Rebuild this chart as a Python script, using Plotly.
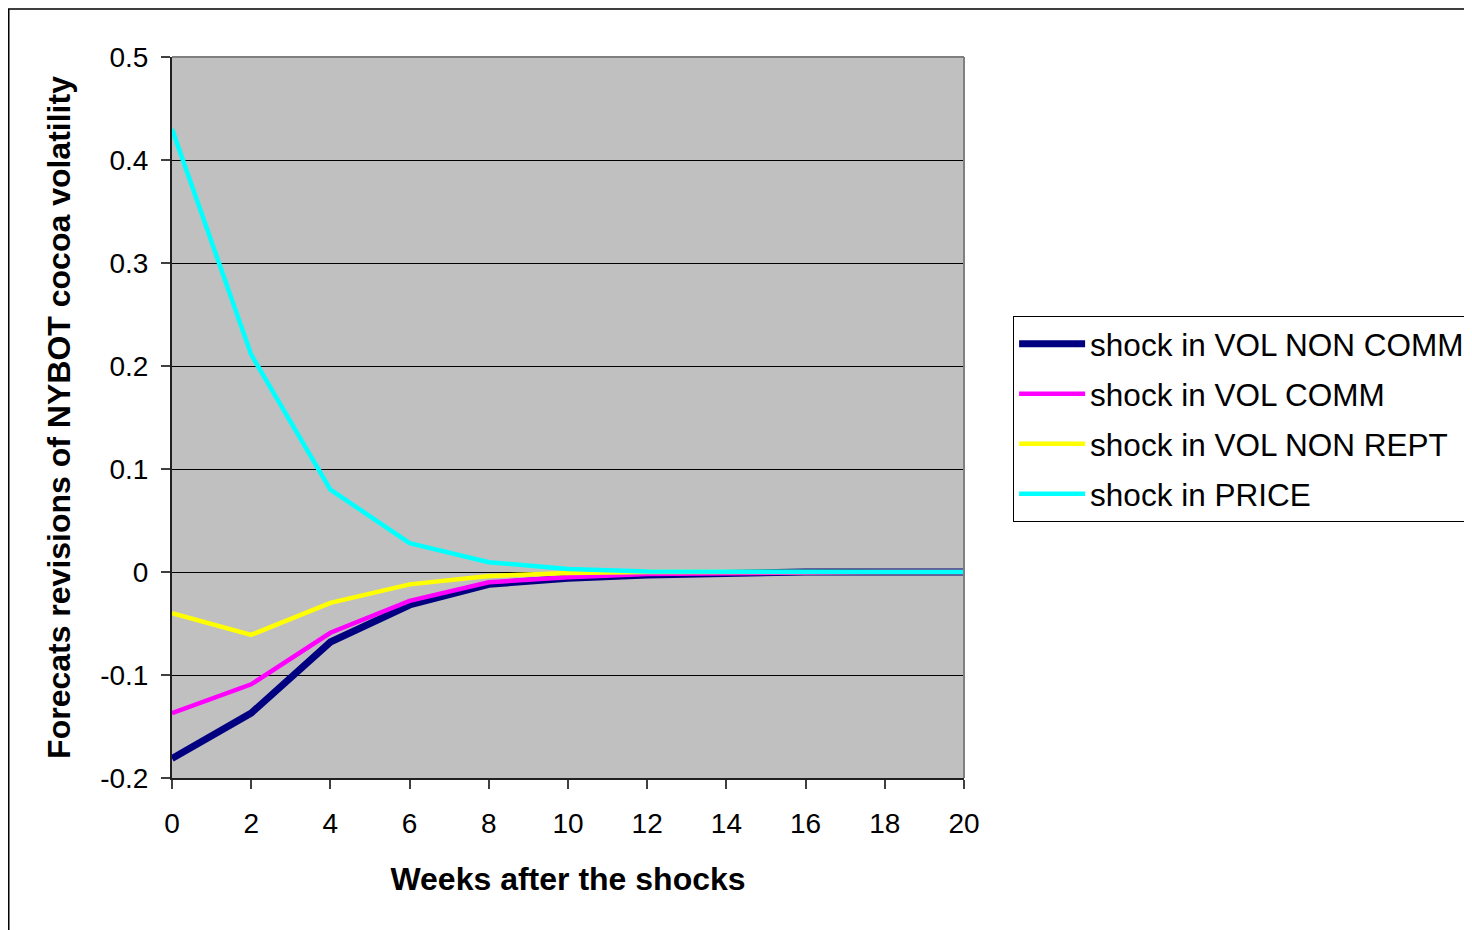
import plotly.graph_objects as go

weeks = [0, 2, 4, 6, 8, 10, 12, 14, 16, 18, 20]
vol_non_comm = [-0.181, -0.137, -0.068, -0.032, -0.012, -0.006, -0.003, -0.001, 0.0, 0.0, 0.0]
vol_comm = [-0.137, -0.109, -0.059, -0.028, -0.010, -0.005, -0.002, -0.001, 0.0, 0.0, 0.0]
vol_non_rept = [-0.040, -0.061, -0.030, -0.012, -0.004, -0.001, 0.0, 0.0, 0.0, 0.0, 0.0]
price = [0.430, 0.211, 0.080, 0.028, 0.0095, 0.003, 0.0005, 0.0, 0.0, 0.0, 0.0]

series_names = ["shock in VOL NON COMM", "shock in VOL COMM", "shock in VOL NON REPT", "shock in PRICE"]
series_colors = ["#000080", "#FF00FF", "#FFFF00", "#00FFFF"]
series_widths = [7, 4.5, 4.5, 4.5]

y_tickvals = [0.5, 0.4, 0.3, 0.2, 0.1, 0.0, -0.1, -0.2]
y_ticktext = ["0.5", "0.4", "0.3", "0.2", "0.1", "0", "-0.1", "-0.2"]
x_tickvals = [0, 2, 4, 6, 8, 10, 12, 14, 16, 18, 20]

FONT = "Liberation Sans, Arial, sans-serif"

fig = go.Figure()
for name, vals, col, w in zip(series_names, [vol_non_comm, vol_comm, vol_non_rept, price], series_colors, series_widths):
    fig.add_trace(go.Scatter(x=weeks, y=vals, mode="lines", name=name, legendgroup=name,
                             line=dict(color=col, width=w)))

fig.update_layout(
    width=1472, height=930,
    margin=dict(l=164, r=516, t=49, b=160, autoexpand=False),
    paper_bgcolor="white", plot_bgcolor="#C0C0C0",
    font=dict(family=FONT, size=28, color="black"),
    showlegend=True,
    legend=dict(x=1.062, y=0.641, xanchor="left", yanchor="top",
                bgcolor="white", bordercolor="black", borderwidth=1,
                font=dict(family=FONT, size=31.5, color="black"),
                tracegroupgap=6, itemwidth=66, traceorder="grouped"),
    xaxis=dict(range=[0, 20], tickvals=x_tickvals, ticks="outside", ticklen=9, tickcolor="#404040",
               tickwidth=2, showgrid=False, zeroline=False, showline=True, linecolor="#202020", linewidth=2,
               tickfont=dict(size=28), ticklabelstandoff=10, automargin=False,
               title=dict(text="<b>Weeks after the shocks</b>", font=dict(size=32), standoff=30)),
    yaxis=dict(range=[-0.2, 0.5], tickvals=y_tickvals, ticktext=y_ticktext, ticks="outside", ticklen=9,
               tickcolor="#404040", tickwidth=2, showgrid=True, gridcolor="black", gridwidth=1,
               zeroline=False, showline=True, linecolor="#202020", linewidth=2,
               tickfont=dict(size=28), ticklabelstandoff=7, automargin=False,
               title=dict(text="<b>Forecats revisions of NYBOT cocoa volatility</b>", font=dict(size=32), standoff=20)),
)

# plot-area top/right borders (grey) and outer chart frame
fig.add_shape(type="line", xref="paper", yref="paper", x0=0, x1=1, y0=1, y1=1,
              line=dict(color="#808080", width=2))
fig.add_shape(type="line", xref="paper", yref="paper", x0=1, x1=1, y0=0, y1=1,
              line=dict(color="#808080", width=2))
fig.add_shape(type="rect", xref="paper", yref="paper", x0=-0.2061, x1=1.8, y0=-0.5, y1=1.0666,
              line=dict(color="black", width=1.5), layer="below")

fig.write_html("out.html")
